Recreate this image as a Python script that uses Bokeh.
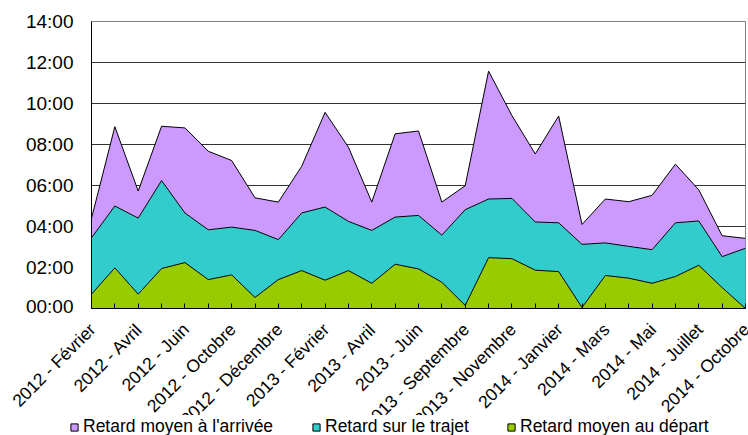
import math
from bokeh.plotting import figure
from bokeh.models import ColumnDataSource, Range1d, FixedTicker, Legend, LegendItem
from bokeh.core.properties import value
from bokeh.embed import file_html
from bokeh.resources import INLINE

months = [
    "2012 - Février", "2012 - Mars", "2012 - Avril", "2012 - Mai", "2012 - Juin",
    "2012 - Septembre", "2012 - Octobre", "2012 - Novembre", "2012 - Décembre",
    "2013 - Janvier", "2013 - Février", "2013 - Mars", "2013 - Avril", "2013 - Mai",
    "2013 - Juin", "2013 - Juillet", "2013 - Septembre", "2013 - Octobre",
    "2013 - Novembre", "2013 - Décembre", "2014 - Janvier", "2014 - Février",
    "2014 - Mars", "2014 - Avril", "2014 - Mai", "2014 - Juin", "2014 - Juillet",
    "2014 - Septembre", "2014 - Octobre",
]

# delays in minutes (stacked: depart, trajet, arrivee)
retard_depart = [0.70, 1.98, 0.70, 1.95, 2.24, 1.41, 1.64, 0.54, 1.41, 1.85, 1.38, 1.85, 1.23,
                 2.16, 1.93, 1.28, 0.15, 2.48, 2.43, 1.87, 1.80, 0.05, 1.61, 1.48, 1.23, 1.56,
                 2.11, 1.02, 0.00]
retard_trajet = [2.75, 3.02, 3.71, 4.29, 2.42, 2.43, 2.33, 3.27, 1.95, 2.81, 3.57, 2.40, 2.58,
                 2.30, 2.61, 2.30, 4.67, 2.86, 2.94, 2.35, 2.38, 3.08, 1.59, 1.55, 1.64, 2.62,
                 2.16, 1.51, 2.94]
retard_arrivee = [0.95, 3.87, 1.32, 2.65, 4.15, 3.83, 3.25, 1.59, 1.83, 2.28, 4.62, 3.62, 1.38,
                  4.06, 4.12, 1.61, 1.17, 6.24, 4.04, 3.32, 5.21, 0.97, 2.14, 2.18, 2.65, 2.86,
                  1.52, 1.02, 0.48]

y_ticks = [0, 2, 4, 6, 8, 10, 12, 14]
y_tick_labels = ["00:00", "02:00", "04:00", "06:00", "08:00", "10:00", "12:00", "14:00"]

series_keys = ["depart", "trajet", "arrivee"]
series_names = ["Retard moyen au départ", "Retard sur le trajet", "Retard moyen à l'arrivée"]
series_colors = ["#99CC00", "#33CCCC", "#CC99FF"]

FONT = "Liberation Sans"
W = 748
LEFT, RIGHT, TOP = 91, 3, 21
FRAME_BOTTOM = 308
MAIN_H = 316
LABELS_H = 99
LEGEND_H = 435 - MAIN_H - LABELS_H
LABEL_ANCHOR_Y = 326

x = list(range(len(months)))
source = ColumnDataSource(dict(x=x, depart=retard_depart, trajet=retard_trajet, arrivee=retard_arrivee))


def bare(fig):
    fig.outline_line_color = None
    fig.grid.visible = False
    fig.background_fill_color = "white"
    fig.border_fill_color = "white"


# ---------------- main plot ----------------
p = figure(width=W, height=MAIN_H, output_backend="svg", toolbar_location=None,
           x_range=Range1d(0, len(months) - 1), y_range=Range1d(y_ticks[0], y_ticks[-1]),
           min_border_left=LEFT, min_border_right=RIGHT, min_border_top=TOP,
           min_border_bottom=MAIN_H - FRAME_BOTTOM)
p.background_fill_color = "white"
p.border_fill_color = "white"
p.outline_line_color = "#808080"
p.outline_line_width = 1

p.varea_stack(series_keys, x="x", color=series_colors, source=source)
p.vline_stack(series_keys, x="x", color="black", line_width=1, source=source)

p.xgrid.visible = False
p.ygrid.ticker = FixedTicker(ticks=y_ticks)
p.ygrid.grid_line_color = "#333333"
p.ygrid.grid_line_width = 1

p.yaxis.ticker = FixedTicker(ticks=y_ticks)
p.yaxis.major_label_overrides = {t: lab for t, lab in zip(y_ticks, y_tick_labels)}
p.yaxis.major_tick_in = 0
p.yaxis.major_tick_out = 0
p.yaxis.minor_tick_line_color = None
p.yaxis.axis_line_color = "black"
p.yaxis.major_label_text_font = FONT
p.yaxis.major_label_text_font_size = "19px"
p.yaxis.major_label_text_color = "black"
p.yaxis.major_label_standoff = 18

p.xaxis.ticker = FixedTicker(ticks=x)
p.xaxis.major_label_overrides = {i: "" for i in x}
p.xaxis.major_label_text_font_size = "1px"
p.xaxis.major_label_standoff = 0
p.xaxis.major_tick_in = 5
p.xaxis.major_tick_out = 0
p.xaxis.major_tick_line_color = "black"
p.xaxis.minor_tick_line_color = None
p.xaxis.axis_line_color = "black"

# ---------------- rotated category labels ----------------
ppu = (W - LEFT - RIGHT) / (len(months) - 1)
lab_idx = [i for i in x if i % 2 == 0]
lab_src = ColumnDataSource(dict(x=lab_idx, y=[-(LABEL_ANCHOR_Y - MAIN_H)] * len(lab_idx),
                                text=[months[i] for i in lab_idx]))

pl = figure(width=W, height=LABELS_H, output_backend="svg", toolbar_location=None,
            x_range=Range1d(0 - LEFT / ppu, (len(months) - 1) + RIGHT / ppu),
            y_range=Range1d(-LABELS_H, 0),
            x_axis_location=None, y_axis_location=None,
            min_border_left=0, min_border_right=0, min_border_top=0, min_border_bottom=0)
bare(pl)
pl.text(x="x", y="y", text="text", source=lab_src, angle=math.pi / 4,
        text_align="right", text_baseline="middle", x_offset=1,
        text_font=value(FONT), text_font_size="17.5px", text_color="black")

# ---------------- legend strip ----------------
pg = figure(width=W, height=LEGEND_H, output_backend="svg", toolbar_location=None,
            x_range=Range1d(0, W), y_range=Range1d(0, LEGEND_H),
            x_axis_location=None, y_axis_location=None,
            min_border_left=0, min_border_right=0, min_border_top=0, min_border_bottom=0)
bare(pg)

nan = float("nan")
legend_order = [2, 1, 0]
legend_vx = [65, 307, 502]
for k, vx in zip(legend_order, legend_vx):
    proxy = pg.scatter(x=[nan], y=[nan], marker="square", fill_color=series_colors[k],
                       line_color="black", line_width=1)
    leg = Legend(items=[LegendItem(label=series_names[k], renderers=[proxy])],
                 location=(vx, -2), orientation="horizontal",
                 glyph_width=18, glyph_height=18, label_standoff=-4, label_height=18,
                 label_text_font=FONT, label_text_font_size="17.5px", label_text_color="black",
                 padding=0, margin=0, border_line_color=None, background_fill_alpha=0,
                 spacing=0)
    pg.add_layout(leg, "center")

open("out.html", "w").write(file_html([p, pl, pg], INLINE))
